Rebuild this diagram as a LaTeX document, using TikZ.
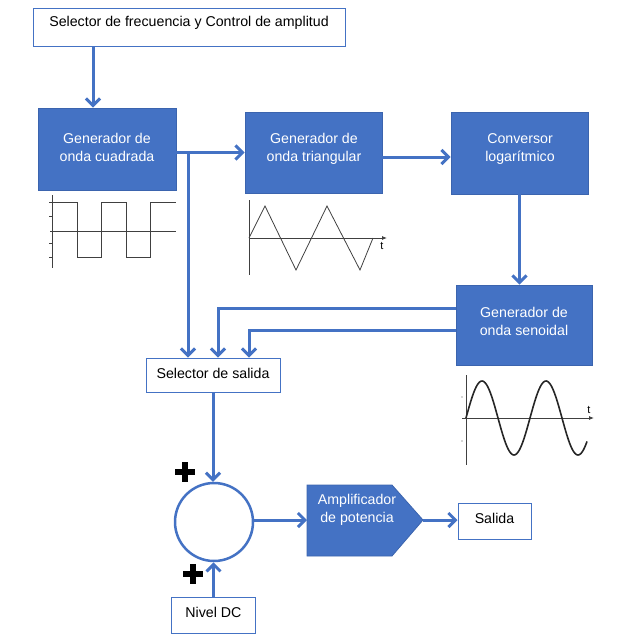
\documentclass[tikz,border=0pt]{standalone}
\usepackage{fontspec}
\setmainfont{Liberation Sans}
\usetikzlibrary{arrows.meta}
\definecolor{ublue}{HTML}{4472C4}
\definecolor{ubdark}{HTML}{3B64AE}
\begin{document}
\begin{tikzpicture}[x=1pt,y=-1pt,
  txt/.style={font=\fontsize{14.2}{18}\selectfont,align=center,inner sep=0pt},
  wbox/.style={draw=ublue,line width=1pt,fill=white,inner sep=0pt},
  bbox/.style={draw=ubdark,line width=0.8pt,fill=ublue,inner sep=0pt},
  arr/.style={draw=ublue,line width=3pt,-{Straight Barb[length=7pt,width=14pt]}},
  graph/.style={line width=0.8pt,draw=black!75},
  curve/.style={line width=1.6pt,draw=black!85},
  plus/.style={line width=6pt,draw=black}]
\useasboundingbox (0,0) rectangle (643,640);
% boxes
\node[wbox,minimum width=312pt,minimum height=38pt] (top) at (189,27) {};
\node[txt] (ttop) at (189,23) {Selector de frecuencia y Control de amplitud};
\node[bbox,minimum width=138pt,minimum height=82pt] (sq) at (107,149) {};
\node[txt,text=white] (tsq) at (107,147) {Generador de\\onda cuadrada};
\node[bbox,minimum width=137pt,minimum height=81pt] (tri) at (313.5,152.5) {};
\node[txt,text=white] (ttri) at (314,149) {Generador de\\onda triangular};
\node[bbox,minimum width=137pt,minimum height=82pt] (log) at (519.5,153) {};
\node[txt,text=white] (tlog) at (520,149) {Conversor\\logarítmico};
\node[bbox,minimum width=136pt,minimum height=80pt] (sin) at (524,325) {};
\node[txt,text=white] (tsin) at (524,321) {Generador de\\onda senoidal};
\node[wbox,minimum width=134pt,minimum height=34pt] (sel) at (213,375) {};
\node[txt] (tsel) at (213,373) {Selector de salida};
\node[circle,draw=ublue,line width=2.5pt,fill=white,minimum size=78pt,inner sep=0pt] (sum) at (214,522) {};
\node[wbox,minimum width=84pt,minimum height=36pt] (dc) at (213.5,615) {};
\node[txt] (tdc) at (213.5,612) {Nivel DC};
\fill[ublue,draw=ubdark,line width=0.8pt] (307,485) -- (392,485) -- (423,520) -- (392,556) -- (307,556) -- cycle;
\coordinate (ampl) at (307,520);
\coordinate (ampr) at (423,520);
\node[txt,text=white] (tamp) at (357,510) {Amplificador\\de potencia};
\node[wbox,minimum width=73pt,minimum height=36pt] (sal) at (494.5,521) {};
\node[txt] (tsal) at (494.5,518) {Salida};
% connectors
\draw[arr] ([xshift=-14pt]sq.north |- top.south) -- ([xshift=-14pt]sq.north);
\draw[arr] (sq.east |- tri.west) -- (tri.west);
\coordinate (j1) at (188,152.5);
\draw[arr] (j1) -- (j1 |- sel.north);
\draw[arr] ([yshift=-4.5pt]tri.east) -- ([yshift=-4.5pt]tri.east -| log.west);
\draw[arr] (log.south) -- (log.south |- sin.north);
\draw[arr] ([yshift=17pt]sin.west) -| ([xshift=5pt]sel.north);
\draw[arr] ([yshift=-5pt]sin.west) -| ([xshift=36pt]sel.north);
\draw[arr] (sel.south) -- (sel.south |- sum.north);
\draw[arr] (dc.north) -- (dc.north |- sum.south);
\draw[arr] (ampl -| sum.east) -- (ampl);
\draw[arr] (ampr) -- (ampr -| sal.west);
% plus signs
\draw[plus] (175,472) -- (195,472) (185,462) -- (185,482);
\draw[plus] (183,574) -- (203,574) (193,564) -- (193,584);
% square wave graph
\draw[graph] (52,195) -- (52,268);
\draw[graph] (50,231) -- (176,231);
\foreach \yy in {202,216,243,257} \draw[graph] (49,\yy) -- (52,\yy);
\draw[graph] (52,202) -- (77.7,202) -- (77.7,257.5) -- (101,257.5) -- (101,202) -- (126.7,202) -- (126.7,257.5) -- (150.7,257.5) -- (150.7,202) -- (176,202);
% triangle graph
\draw[graph] (249,200) -- (249,275);
\draw[graph,-{Latex[length=5pt,width=4pt]}] (249,238) -- (387,238);
\node[font=\fontsize{11}{12}\selectfont,inner sep=0pt] (tt) at (382,246) {t};
\draw[graph] (249,238) -- (265,206) -- (296,270) -- (327,206) -- (360,270) -- (373,238);
% sine graph
\draw[graph] (466,375) -- (466,465);
\draw[graph,-{Latex[length=5pt,width=4pt]}] (462,418) -- (594,418);
\node[font=\fontsize{11}{12}\selectfont,inner sep=0pt] (ts) at (589,410) {t};
\fill[black!70] (462,397) circle (0.7pt) (462,441) circle (0.7pt);
\draw[curve] plot[domain=0:121,samples=120,smooth] ({466+\x},{418-37*sin(\x*5.625)});
\end{tikzpicture}
\end{document}
